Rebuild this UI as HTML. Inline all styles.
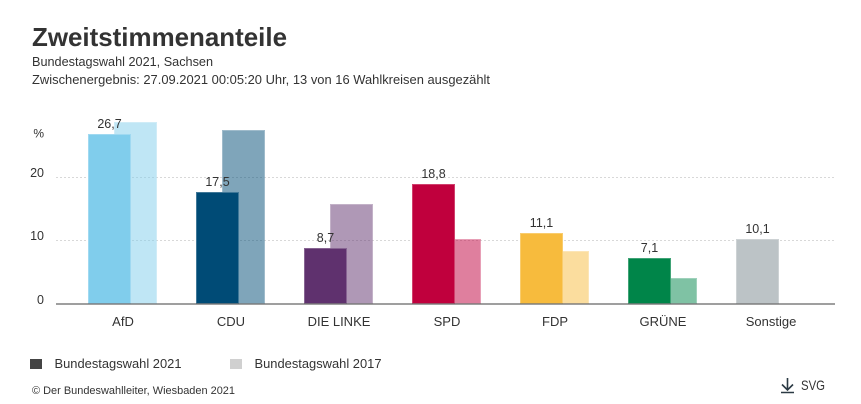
<!DOCTYPE html>
<html lang="de">
<head>
<meta charset="utf-8">
<title>Zweitstimmenanteile</title>
<style>
html,body{margin:0;padding:0;background:#fff;}
body{width:861px;height:404px;overflow:hidden;}
svg{display:block;}
text{font-family:"Liberation Sans",Arial,sans-serif;fill:#333;}
</style>
</head>
<body>
<svg id="chart" width="861" height="404" viewBox="0 0 861 404" xmlns="http://www.w3.org/2000/svg">
  <text x="32" y="46" font-size="26" font-weight="700" textLength="255" lengthAdjust="spacingAndGlyphs">Zweitstimmenanteile</text>
  <text x="32" y="66" font-size="13" textLength="181" lengthAdjust="spacingAndGlyphs">Bundestagswahl 2021, Sachsen</text>
  <text x="32" y="84" font-size="13" textLength="458" lengthAdjust="spacingAndGlyphs">Zwischenergebnis: 27.09.2021 00:05:20 Uhr, 13 von 16 Wahlkreisen ausgezählt</text>
  <text x="44" y="137.5" font-size="12" text-anchor="end">%</text>
  <g id="grid"></g>
  <g id="bars"></g>
  <g id="labels"></g>
  <rect x="30" y="359" width="12" height="10" fill="#444"></rect>
  <text x="54.5" y="368" font-size="13" textLength="127" lengthAdjust="spacingAndGlyphs">Bundestagswahl 2021</text>
  <rect x="230" y="359" width="12" height="10" fill="#d0d0d0"></rect>
  <text x="254.5" y="368" font-size="13" textLength="127" lengthAdjust="spacingAndGlyphs">Bundestagswahl 2017</text>
  <text x="32" y="394" font-size="11" textLength="203" lengthAdjust="spacingAndGlyphs">© Der Bundeswahlleiter, Wiesbaden 2021</text>
  <g>
    <path d="M787.5 378V390M782 384.5L787.5 390L793 384.5M781 392.5H794" fill="none" stroke="#2b3a44" stroke-width="1.6"></path>
    <text x="801" y="390" font-size="14" textLength="24" lengthAdjust="spacingAndGlyphs">SVG</text>
  </g>
</svg>
<script>
const categories = ["AfD", "CDU", "DIE LINKE", "SPD", "FDP", "GRÜNE", "Sonstige"];
const values2021 = [26.7, 17.5, 8.7, 18.8, 11.1, 7.1, 10.1];
const values2017 = [28.6, 27.4, 15.6, 10.1, 8.2, 4.0, null];
const valueLabels = ["26,7", "17,5", "8,7", "18,8", "11,1", "7,1", "10,1"];
const colors = ["#80cdec", "#004b76", "#5f316e", "#c0003d", "#f7bb3d", "#008549", "#bcc3c6"];
const yTicks = [0, 10, 20];

const NS = "http://www.w3.org/2000/svg";
const yScale = v => 304 - v * 6.35;
const yPixel = v => Math.floor(yScale(v));
const xScale = i => 88 + i * 108;
const BAR_W = 43;
const OFFSET = 26;

function make(tag, attrs, parent) {
  const el = document.createElementNS(NS, tag);
  for (const k in attrs) el.setAttribute(k, attrs[k]);
  parent.appendChild(el);
  return el;
}

const grid = document.getElementById("grid");
const bars = document.getElementById("bars");
const labels = document.getElementById("labels");

yTicks.forEach(t => {
  const y = yPixel(t);
  const lab = make("text", {x: 44, y: y, "font-size": 12.5, "text-anchor": "end"}, grid);
  
  
  lab.textContent = String(t);
  if (t > 0) {
    const line = make("line", {x1: 56, x2: 835, y1: y + 0.5, y2: y + 0.5, stroke: "#d8d8d8", "stroke-width": 1, "stroke-dasharray": "2 2"}, grid);
    
    
  }
});

categories.forEach((c, i) => {
  const x = xScale(i);
  if (values2017[i] !== null) {
    const top = yPixel(values2017[i]);
    const h = 304 - top;
    const r = make("rect", {x: x + OFFSET, y: top, width: BAR_W, height: h, fill: colors[i], "fill-opacity": 0.5}, bars);
    
    
    const edge = make("rect", {x: x + OFFSET + 0.5, y: top + 0.5, width: BAR_W - 1, height: h - 1, fill: "none", stroke: "#fff", "stroke-opacity": 0.25}, bars);
    
    
  }
  const top = yPixel(values2021[i]);
  const h = 304 - top;
  const under = make("rect", {x: x, y: top, width: BAR_W, height: h, fill: "#fff"}, bars);
  
  
  const r = make("rect", {x: x, y: top, width: BAR_W, height: h, fill: colors[i]}, bars);
  
  
  const edge = make("rect", {x: x + 0.5, y: top + 0.5, width: BAR_W - 1, height: h - 1, fill: "none", stroke: "#fff", "stroke-opacity": 0.25}, bars);
  
  

  const v = make("text", {x: x + BAR_W / 2, y: top - 6, "font-size": 12.5, "text-anchor": "middle"}, labels);
  
  
  v.textContent = valueLabels[i];

  const cat = make("text", {x: x + 35, y: 326, "font-size": 13, "text-anchor": "middle"}, labels);
  
  
  cat.textContent = c;
});

const axis = make("line", {x1: 56, x2: 835, y1: 304, y2: 304, stroke: "#666", "stroke-width": 1.3}, bars);


</script>
</body>
</html>
